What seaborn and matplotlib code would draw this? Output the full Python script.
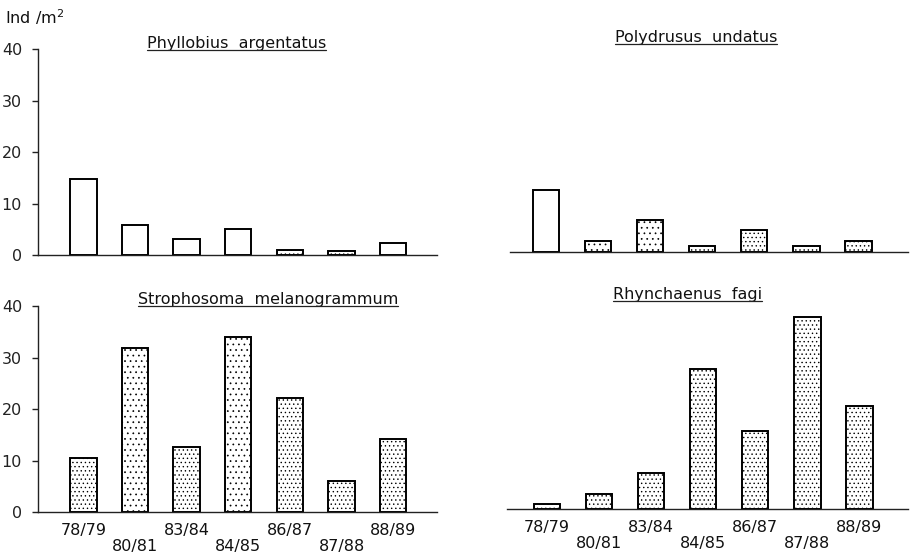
import matplotlib
matplotlib.use("Agg")
import matplotlib.pyplot as plt
import seaborn as sns
import pandas as pd
from matplotlib.lines import Line2D

# ---- data ----
seasons = ["78/79", "80/81", "83/84", "84/85", "86/87", "87/88", "88/89"]
phyllobius = [14.8, 5.9, 3.1, 5.2, 1.1, 0.9, 2.3]
polydrusus = [12.1, 2.2, 6.2, 1.1, 4.2, 1.2, 2.2]
strophosoma = [10.5, 31.8, 12.7, 34.0, 22.1, 6.0, 14.1]
rhynchaenus = [0.9, 2.9, 7.0, 27.1, 15.1, 37.2, 20.0]
titles = ["Phyllobius  argentatus", "Polydrusus  undatus",
          "Strophosoma  melanogrammum", "Rhynchaenus  fagi"]
y_ticks = [0, 10, 20, 30, 40]
y_label = "Ind /m$^{2}$"

# ---- styles (per bar fill pattern) ----
hatch_phyl = ["", "", "", "", "....", "....", ""]
hatch_poly = ["", "...", "...", "....", "....", "....", "...."]
hatch_stro = ["....", "...", "....", "...", "....", "....", "...."]
hatch_rhyn = ["....", "....", "....", "....", "....", "....", "...."]

sns.set_style("white")
plt.rcParams["font.family"] = ["DejaVu Sans"]
plt.rcParams["hatch.linewidth"] = 0.5
plt.rcParams["hatch.color"] = "#444444"

fig = plt.figure(figsize=(9.11, 5.55), dpi=100)

panels = [
    dict(vals=phyllobius, hatches=hatch_phyl, pos=[0.0417, 0.540, 0.438, 0.371],
         xlim=(-0.88, 6.85), yaxis=True, xlabels=False, tx=0.498, ty=1.03),
    dict(vals=polydrusus, hatches=hatch_poly, pos=[0.560, 0.546, 0.437, 0.371],
         xlim=(-0.69, 6.96), yaxis=False, xlabels=False, tx=0.467, ty=1.04),
    dict(vals=strophosoma, hatches=hatch_stro, pos=[0.0417, 0.0775, 0.438, 0.371],
         xlim=(-0.88, 6.85), yaxis=True, xlabels=True, tx=0.577, ty=1.03),
    dict(vals=rhynchaenus, hatches=hatch_rhyn, pos=[0.557, 0.083, 0.440, 0.371],
         xlim=(-0.76, 6.94), yaxis=False, xlabels=True, tx=0.449, ty=1.04),
]

title_texts = []
for p, title in zip(panels, titles):
    ax = fig.add_axes(p["pos"])
    df = pd.DataFrame({"season": seasons, "value": p["vals"]})
    sns.barplot(data=df, x="season", y="value", ax=ax, color="white",
                edgecolor="black", linewidth=1.4, width=0.51, saturation=1)
    for patch, h in zip(ax.patches, p["hatches"]):
        patch.set_hatch(h)
        patch.set_facecolor("white")
        patch.set_edgecolor("black")
    ax.set_xlim(*p["xlim"])
    ax.set_ylim(0, 40)
    ax.set_xlabel("")
    ax.set_ylabel("")
    for s in ["top", "right"]:
        ax.spines[s].set_visible(False)
    ax.spines["bottom"].set_color("#222222")
    ax.spines["bottom"].set_linewidth(1.0)
    if p["yaxis"]:
        ax.spines["left"].set_color("#222222")
        ax.spines["left"].set_linewidth(1.0)
        ax.set_yticks(y_ticks)
        ax.set_yticklabels([str(t) for t in y_ticks])
        ax.tick_params(axis="y", direction="out", length=4.5, width=1.0,
                       pad=7, labelsize=11.5, colors="#222222", left=True)
    else:
        ax.spines["left"].set_visible(False)
        ax.set_yticks([])
    if p["xlabels"]:
        ax.set_xticks(range(len(seasons)))
        ax.set_xticklabels([s if i % 2 == 0 else "\n" + s
                            for i, s in enumerate(seasons)],
                           linespacing=1.1)
        ax.tick_params(axis="x", length=0, pad=8, labelsize=11.5, colors="#111111")
    else:
        ax.set_xticks([])
    t = ax.text(p["tx"], p["ty"], title, transform=ax.transAxes,
                ha="center", va="center", fontsize=11.5, color="#111111")
    title_texts.append(t)

fig.text(0.006, 1 - 17 / 555, y_label, ha="left", va="center",
         fontsize=11.5, color="#111111")

# underline the titles
fig.canvas.draw()
renderer = fig.canvas.get_renderer()
inv = fig.transFigure.inverted()
for t in title_texts:
    bb = t.get_window_extent(renderer)
    (x0, y0), (x1, _) = inv.transform([(bb.x0, bb.y0 + 1), (bb.x1, bb.y1)])
    fig.add_artist(Line2D([x0, x1], [y0, y0], transform=fig.transFigure,
                          color="#222222", linewidth=0.9))

fig.savefig("out.png", dpi=100)
